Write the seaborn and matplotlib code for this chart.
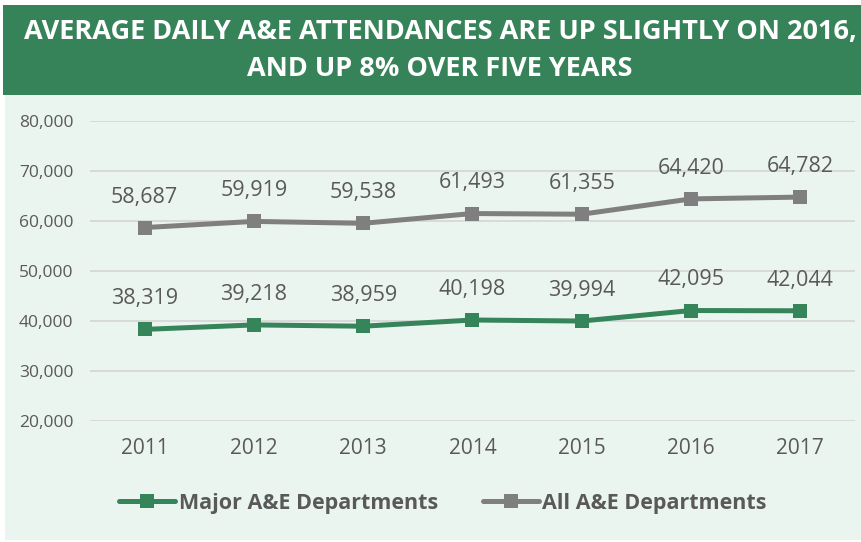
import matplotlib
matplotlib.use("Agg")
import matplotlib.pyplot as plt
import seaborn as sns
import pandas as pd
from matplotlib.patches import Rectangle
from matplotlib.ticker import FuncFormatter

years = ["2011", "2012", "2013", "2014", "2015", "2016", "2017"]
major = [38319, 39218, 38959, 40198, 39994, 42095, 42044]
all_ae = [58687, 59919, 59538, 61493, 61355, 64420, 64782]
series_names = ["Major A&E Departments", "All A&E Departments"]
title = "AVERAGE DAILY A&E ATTENDANCES ARE UP SLIGHTLY ON 2016,\nAND UP 8% OVER FIVE YEARS"

GREEN = "#35845A"
GREY = "#7F7F7F"
BG = "#EBF5F0"
TXT = "#595959"

sns.set_theme(style="white")
plt.rcParams["font.family"] = ["Open Sans", "DejaVu Sans"]

df = pd.DataFrame({
    "year": years * 2,
    "value": major + all_ae,
    "series": [series_names[0]] * len(years) + [series_names[1]] * len(years),
})

fig = plt.figure(figsize=(8.62, 5.42), dpi=100, facecolor="white")
W, H = 862, 542
bg = fig.add_axes([0, 0, 1, 1], zorder=-10)
bg.set_xlim(0, W)
bg.set_ylim(H, 0)
bg.axis("off")
bg.add_patch(Rectangle((5, 95), W - 5, 540 - 95, facecolor=BG, edgecolor="none"))
bg.add_patch(Rectangle((3, 5), W - 3, 90, facecolor="#378359", edgecolor="none"))
bg.text(440, 50, title, ha="center", va="center", color="white",
        fontsize=19.5, fontweight="bold", linespacing=1.55)

ax = fig.add_axes([90 / W, 1 - 421 / H, (855 - 90) / W, 300 / H])
ax.set_facecolor("none")
sns.lineplot(data=df, x="year", y="value", hue="series", palette=[GREEN, GREY],
             marker="s", markersize=10, markeredgewidth=0, linewidth=3.6,
             sort=False, ax=ax, legend=True)
ax.set_xlim(-0.5, len(years) - 0.5)
ax.set_ylim(20000, 80000)
ax.set_yticks(range(20000, 80001, 10000))
ax.yaxis.set_major_formatter(FuncFormatter(lambda v, p: f"{int(v):,}"))
ax.grid(axis="y", color="#D9D9D9", linewidth=1.4)
ax.grid(axis="x", visible=False)
for s in ax.spines.values():
    s.set_visible(False)
ax.tick_params(axis="y", labelsize=12.5, labelcolor=TXT, length=0, pad=12)
ax.tick_params(axis="x", labelsize=15, labelcolor=TXT, length=0, pad=12)
ax.set_xlabel("")
ax.set_ylabel("")

for vals in (major, all_ae):
    for i, v in enumerate(vals):
        ax.annotate(f"{v:,}", (i, v), xytext=(0, 22), textcoords="offset points",
                    ha="center", va="center", fontsize=15.5, color=TXT)

handles, labels = ax.get_legend_handles_labels()
ax.legend(handles, labels, loc="center", bbox_to_anchor=(443 / W, 1 - 503 / H),
          bbox_transform=fig.transFigure, ncol=2, frameon=False,
          prop={"size": 15.5, "weight": "bold"}, labelcolor=TXT,
          handlelength=2.6, handletextpad=0.15, columnspacing=2.1)

fig.savefig("out.png", dpi=100, facecolor=fig.get_facecolor())
